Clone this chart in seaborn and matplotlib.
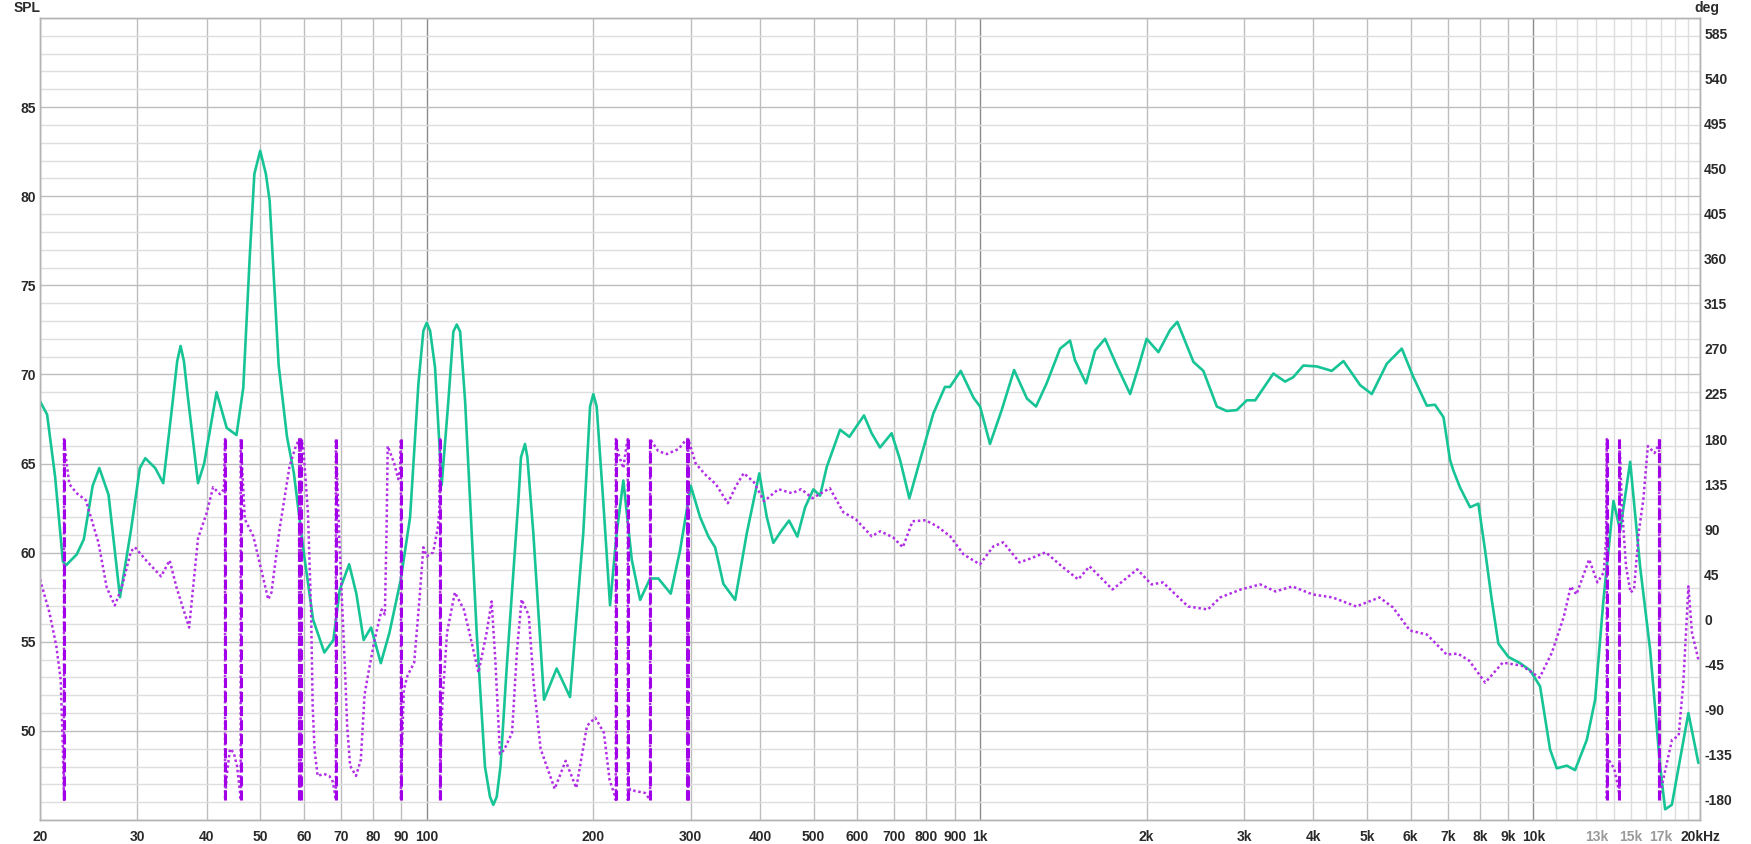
import matplotlib
matplotlib.use("Agg")
import matplotlib.pyplot as plt
from matplotlib.ticker import NullFormatter
import seaborn as sns

# SPL response (Hz, dB)
spl_freq = [
    20.0, 20.6, 21.3, 22.0, 22.3, 23.3, 24.0, 24.9, 25.6, 26.6, 27.9, 29.2, 30.3, 31.0,
    32.3, 33.4, 34.6, 35.4, 35.9, 36.4, 37.0, 38.6, 39.6, 41.7, 43.5, 45.3, 46.6, 47.9,
    48.8, 50.0, 51.2, 52.0, 54.0, 55.9, 57.5, 59.8, 62.3, 65.3, 67.8, 69.6, 72.4, 74.6,
    76.9, 79.3, 82.6, 85.6, 89.7, 93.3, 96.6, 98.6, 100.0, 101.4, 103.5, 106.4, 109.4,
    111.7, 113.3, 114.9, 117.3, 123.1, 127.4, 130.1, 131.9, 133.8, 135.9, 139.5, 146.4,
    148.0, 150.5, 152.0, 155.8, 162.9, 171.7, 181.5, 191.8, 197.3, 200.0, 202.8, 208.4,
    214.4, 220.4, 226.6, 234.7, 243.0, 253.3, 262.2, 276.0, 287.0, 300.0, 311.8, 322.9,
    332.0, 343.6, 360.9, 378.8, 399.0, 411.6, 423.0, 438.0, 451.6, 467.5, 482.8, 499.7,
    513.8, 528.2, 558.4, 580.4, 616.8, 636.8, 659.4, 692.0, 716.8, 745.0, 779.0, 823.0,
    864.0, 882.0, 922.6, 972.6, 999.8, 1042, 1094, 1152, 1215, 1262, 1319, 1395, 1454,
    1484, 1554, 1614, 1682, 1766, 1867, 1932, 2000, 2100, 2205, 2272, 2430, 2532, 2678,
    2790, 2910, 3034, 3142, 3388, 3558, 3682, 3838, 4060, 4320, 4536, 4862, 5104, 5432,
    5782, 6068, 6416, 6638, 6878, 7068, 7168, 7370, 7682, 7952, 8176, 8408, 8642, 9010,
    9460, 9862, 10280, 10718, 11020, 11488, 11892, 12488, 12928, 13382, 13952, 14346,
    14956, 15590, 16252, 16944, 17300, 17788, 18410, 19058, 19866,
]
spl_db = [
    68.5, 67.75, 64.25, 59.5, 59.3, 59.9, 60.75, 63.75, 64.75, 63.25, 57.5, 61.25, 64.75, 65.3,
    64.75, 63.9, 68.0, 70.75, 71.6, 70.75, 68.75, 63.9, 65.0, 69.0, 67.0, 66.6, 69.25, 76.75,
    81.25, 82.55, 81.25, 79.75, 70.5, 66.5, 64.5, 60.25, 56.25, 54.4, 55.1, 57.9, 59.35, 57.7,
    55.1, 55.8, 53.8, 55.5, 58.45, 62.0, 69.5, 72.45, 72.9, 72.45, 70.4, 63.8, 68.5,
    72.4, 72.8, 72.4, 68.5, 55.5, 48.0, 46.3, 45.85, 46.3, 48.0, 53.6, 62.9,
    65.35, 66.1, 65.35, 61.1, 51.75, 53.5, 51.9, 61.1, 68.2, 68.9, 68.2, 62.9,
    57.05, 61.1, 64.05, 59.6, 57.35, 58.55, 58.55, 57.7, 60.15, 63.75, 62.0, 60.9,
    60.3, 58.25, 57.35, 61.1, 64.45, 62.0, 60.55, 61.25, 61.8, 60.9, 62.55, 63.55,
    63.2, 64.8, 66.9, 66.5, 67.7, 66.7, 65.9, 66.7, 65.2, 63.05, 65.2, 67.8,
    69.3, 69.3, 70.2, 68.7, 68.2, 66.1, 68.0, 70.25, 68.65, 68.2, 69.5, 71.45, 71.9,
    70.8, 69.5, 71.35, 72.0, 70.5, 68.9, 70.4, 72.0, 71.25, 72.5, 72.95, 70.7, 70.2, 68.2,
    67.95, 68.0, 68.55, 68.55, 70.05, 69.6, 69.85, 70.5, 70.45, 70.2, 70.75, 69.4, 68.9, 70.6,
    71.45, 69.85, 68.25, 68.3, 67.6, 65.2, 64.6, 63.65, 62.55, 62.75, 60.15, 57.35, 54.9, 54.15,
    53.8, 53.4, 52.5, 48.95, 47.9, 48.05, 47.8, 49.5, 51.75, 57.35, 62.9, 61.25,
    65.1, 59.2, 54.55, 48.0, 45.6, 45.85, 48.4, 51.0, 48.2,
]

# wrapped phase (Hz, deg); a repeated frequency marks a wrap between +180 and -180
phase_freq = [
    20.0, 20.8, 21.4, 21.8, 22.0, 22.1, 22.1, 22.3, 22.6, 23.3, 24.2, 25.5, 26.4, 27.3,
    28.1, 29.2, 29.7, 31.1, 33.1, 34.3, 35.3, 37.2, 38.6, 40.0, 41.1, 42.3, 43.0, 43.2,
    43.2, 43.5, 44.1, 44.8, 45.4, 45.9, 46.1, 46.1, 46.9, 48.6, 50.0, 51.7, 52.4, 54.2,
    56.5, 58.0, 58.8, 58.8, 59.0, 59.2, 59.2, 59.8, 61.0, 61.8, 62.2, 62.7, 63.5, 65.2,
    66.6, 67.5, 68.0, 68.5, 68.5, 69.5, 71.2, 71.8, 72.7, 74.5, 76.0, 77.2, 78.5, 80.5,
    82.9, 84.0, 84.6, 85.0, 87.3, 88.8, 89.5, 89.8, 89.8, 90.3, 90.9, 92.3, 94.9, 97.0,
    98.6, 100.0, 102.7, 104.8, 105.4, 105.7, 105.7, 106.2, 106.8, 108.8, 112.4, 116.7,
    119.4, 124.0, 128.3, 131.0, 133.0, 135.6, 138.0, 142.6, 145.6, 148.4, 152.9, 156.0,
    160.6, 170.3, 178.2, 186.3, 194.8, 201.6, 209.0, 214.0, 218.5, 219.6, 219.6, 222.0,
    226.6, 229.5, 230.8, 230.8, 233.0, 237.6, 248.0, 253.3, 253.3, 262.0, 271.5, 285.0,
    293.0, 295.8, 295.8, 296.3, 296.8, 296.8, 306, 318, 333, 350, 362, 374, 390, 407,
    432, 457, 475, 498, 535, 566, 596, 637, 660, 696, 725, 755, 797, 836, 883, 933, 999,
    1057, 1101, 1178, 1236, 1314, 1405, 1504, 1577, 1735, 1923, 2041, 2140, 2376, 2580,
    2717, 2960, 3209, 3418, 3667, 3990, 4335, 4782, 5270, 5574, 5980, 6420, 6690, 6970,
    7300, 7652, 8182, 8800, 9520, 10260, 10800, 11350, 11680, 11960, 12610, 13050,
    13400, 13530, 13570, 13570, 13650, 14000, 14250, 14305, 14305, 14450, 14700, 14980,
    15200, 15500, 15800, 16100, 16550, 16860, 16875, 16875, 17000, 17800, 18300, 18660,
    19060, 19340, 19866,
]
phase_deg = [
    40, 7, -26, -60, -130, -180, 180, 160, 135, 126, 119, 77, 32, 14,
    32, 68, 72, 59, 43, 59, 32, -8, 81, 106, 132, 125, 130, 180,
    -180, -156, -129, -133, -146, -169, -180, 180, 100, 83, 54, 20, 27, 90,
    153, 173, 180, -180, -178, -180, 180, 173, 106, 7, -86, -130, -156, -154,
    -156, -160, -169, -180, 180, 80, -53, -106, -146, -156, -140, -75, -52, -20,
    10, 5, 90, 173, 156, 140, 150, 180, -180, -120, -70, -56, -43, 20,
    72, 63, 67, 93, 110, 180, -180, -113, -80, -13, 27, 10,
    -13, -53, -13, 18, -40, -134, -130, -113, -30, 20, 4, -63,
    -129, -169, -141, -168, -106, -98, -113, -160, -175, -180, 180, 165,
    151, 173, 180, -180, -169, -171, -173, -180, 180, 168, 165, 170,
    178, 180, -180, -178, -180, 180, 156, 145, 135, 116, 133, 146, 137, 118,
    130, 126, 130, 121, 131, 107, 100, 83, 88, 82, 72, 98, 99, 93, 83, 65, 55,
    73, 77, 57, 61, 67, 53, 40, 53, 30, 50, 35, 37, 13, 10,
    22, 30, 35, 28, 33, 25, 22, 13, 22, 12, -11, -15, -25, -35,
    -34, -41, -63, -43, -46, -58, -33, 3, 33, 25, 60, 37,
    47, 80, 180, -180, -139, -149, -169, -180, 180, 113, 53, 27,
    30, 87, 120, 173, 166, 175, 180, -180, -170, -120, -116, -63,
    33, -13, -40,
]

xtick_pos = [20, 30, 40, 50, 60, 70, 80, 90, 100, 200, 300, 400, 500, 600, 700, 800, 900,
             1000, 2000, 3000, 4000, 5000, 6000, 7000, 8000, 9000, 10000, 13000, 15000,
             17000, 20000]
xtick_labels = ["20", "30", "40", "50", "60", "70", "80", "90", "100", "200", "300", "400",
                "500", "600", "700", "800", "900", "1k", "2k", "3k", "4k", "5k", "6k", "7k",
                "8k", "9k", "10k", "13k", "15k", "17k", "20kHz"]
xminor_pos = [11000, 12000, 14000, 16000, 18000, 19000]
deg_ticks = list(range(-180, 586, 45))

GREEN = "#17c495"
PURPLE_DOT = "#b12ee6"
PURPLE_DASH = "#a100e8"
TXT = "#2a2a2a"
FS = 10

sns.set_style("white")
plt.rcParams["font.family"] = ["Liberation Sans", "DejaVu Sans"]
plt.rcParams["font.weight"] = "bold"
plt.rcParams["axes.unicode_minus"] = False

W, H = 1751, 844
fig = plt.figure(figsize=(W / 100, H / 100), dpi=100)
ax = fig.add_axes([40 / W, 24 / H, 1660 / W, 802 / H])
ax.set_xscale("log")
ax.set_xlim(20, 20000)
ax.set_ylim(45, 90)
ax.set_axisbelow(True)

ax.set_xticks(xtick_pos)
ax.set_xticklabels(xtick_labels)
ax.set_xticks(xminor_pos, minor=True)
ax.xaxis.set_minor_formatter(NullFormatter())
ax.set_yticks(range(50, 90, 5))
ax.set_yticks(range(45, 91), minor=True)
ax.yaxis.set_minor_formatter(NullFormatter())
ax.grid(True, which="major", color="#bdbdbd", linewidth=1.0)
ax.grid(True, which="minor", color="#dedede", linewidth=1.0)
for tick, f in zip(ax.xaxis.get_major_ticks(), xtick_pos):
    if f in (100, 1000, 10000):
        tick.gridline.set_color("#8c8c8c")
    elif 10000 < f < 20000:
        tick.gridline.set_color("#dedede")

sns.lineplot(x=spl_freq, y=spl_db, ax=ax, color=GREEN, linewidth=1.9,
             estimator=None, sort=False, zorder=3)

ax2 = ax.twinx()
ax2.set_ylim(-200, 600)
sns.lineplot(x=phase_freq, y=phase_deg, ax=ax2, color=PURPLE_DOT, linewidth=1.8,
             estimator=None, sort=False, linestyle=(0, (1, 1.1)))
# dashed verticals where the phase wraps
wraps = [phase_freq[i] for i in range(len(phase_freq) - 1)
         if phase_freq[i] == phase_freq[i + 1] and abs(phase_deg[i] - phase_deg[i + 1]) >= 300]
ax2.vlines(wraps, -180, 180, colors=PURPLE_DASH, linewidth=2.2,
           linestyles=[(0, (3.3, 1.3))])
ax2.set_yticks(deg_ticks)
ax2.set_yticklabels([str(v) for v in deg_ticks])
ax2.set_xlim(20, 20000)

for a in (ax, ax2):
    a.set_xlabel("")
    a.set_ylabel("")
    for s in a.spines.values():
        s.set_color("#b4b4b4")
        s.set_linewidth(1.0)
ax.tick_params(axis="both", which="both", length=0, labelsize=FS, colors=TXT)
ax.tick_params(axis="x", pad=7)
ax.tick_params(axis="y", pad=3)
ax2.tick_params(axis="y", length=0, labelsize=FS, colors=TXT, pad=3)
for lbl, f in zip(ax.get_xticklabels(), xtick_pos):
    lbl.set_color("#9a9a9a" if f in (13000, 15000, 17000) else TXT)

fig.text(27 / W, 1 - 8 / H, "SPL", ha="center", va="center", fontsize=FS, color=TXT)
fig.text(1707 / W, 1 - 8 / H, "deg", ha="center", va="center", fontsize=FS, color=TXT)

fig.savefig("out.png", dpi=100)
